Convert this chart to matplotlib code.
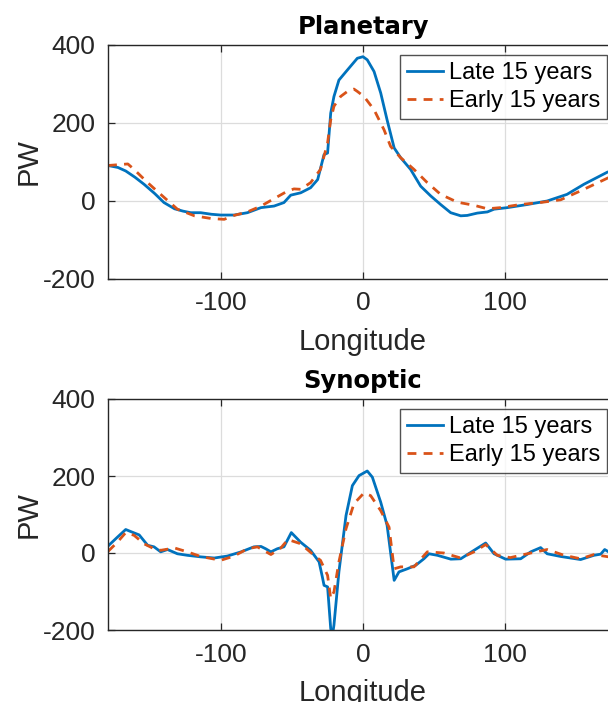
import matplotlib
matplotlib.use("Agg")
import matplotlib.pyplot as plt
import numpy as np

plt.rcParams["axes.unicode_minus"] = False

# ---------------- data ----------------
plan_late_lon = [-180, -173, -167.5, -161, -154.6, -147, -140.5, -133, -127, -121.6, -114.6, -107, -100.5,
                 -91, -81.6, -72, -62.8, -55.8, -51, -44, -37, -32, -27.5, -25, -22.8, -20.5, -17,
                 -11, -4, 0, 3, 7.8, 12.5, 17, 22, 26.6, 33.6, 40.7, 47.8, 54.8, 61.9, 69, 73.6, 80.7,
                 87.8, 92.5, 101.9, 116, 130, 144, 156, 172.5, 180]
plan_late = [91, 86, 77, 61, 43, 19, -4, -20, -26, -30, -30, -34, -36,
             -36, -30, -17, -13, -4, 15, 21, 34, 55, 119, 123, 225, 268, 310,
             336, 366, 370, 362, 332, 277, 208, 136, 111, 81, 38, 13, -9, -30, -38, -37, -31,
             -28, -21, -17, -9, 0, 17, 43, 74, 82]

plan_early_lon = [-180, -166, -161.6, -152, -142.8, -131, -119, -107, -98, -91, -81.6, -72, -62.8,
                  -53, -48.7, -44, -37, -30, -25, -22.8, -20.5, -15.8, -11, -6.4, -4, 0.7, 7.8,
                  14.8, 19.5, 26.6, 36, 45.4, 54.8, 66.6, 78.4, 87.8, 97, 111, 125, 139.5, 153.6,
                  173.4, 180]
plan_early = [91, 95, 81, 47, 17, -21, -38, -45, -47, -37, -28, -13, 6,
              26, 31, 30, 47, 81, 149, 208, 243, 268, 281, 287, 281, 268, 234,
              183, 140, 111, 81, 47, 17, -3, -11, -20, -17, -9, -4, 3, 26,
              60, 66]

syn_late_lon = [-180, -173.4, -167.5, -162.8, -158, -152, -147.5, -142.8, -138, -131, -124, -114.6,
                -105, -95.8, -86, -77, -72, -68.7, -65, -60.5, -55.8, -50.6, -44, -37, -31, -28.7,
                -27.5, -25, -22.8, -21.6, -20.5, -17, -12, -7.5, -2.8, 3, 6.6, 12.5, 17, 22, 25.4,
                31.3, 37.2, 43, 46.6, 52.5, 62, 69, 78.4, 86.6, 92.5, 100.7, 111.3, 118.4, 125.4,
                130, 139.5, 153.6, 163, 167.8, 170.6, 173.4, 180]
syn_late = [18, 41, 61, 54, 47, 20, 16, 3, 9, -2, -6, -10,
            -13, -8, 3, 16, 17, 11, 3, 11, 16, 53, 28, 7, -23, -62,
            -84, -88, -196, -215, -187, -49, 97, 175, 201, 213, 197, 132, 72, -71, -49,
            -41, -32, -15, -2, -6, -16, -15, 7, 26, -2, -16, -15, 3, 14,
            -2, -9, -17, -6, -3, 9, 3, 0]

syn_early_lon = [-180, -173.4, -167.5, -161.6, -154.6, -147.5, -142.8, -133, -124, -114.6, -100.5,
                 -91, -81.6, -74.6, -65, -58, -53, -44, -34.6, -30, -25, -22.8, -20.5, -17, -12,
                 -6.4, 0.7, 5.4, 12.5, 18.4, 22, 26.6, 36, 45.4, 57, 69, 78.4, 86.6, 94.8, 104,
                 116, 130, 142, 153.6, 163, 173.4, 180]
syn_early = [4, 28, 53, 46, 24, 11, 7, 13, 3, -9, -19,
             -8, 11, 16, -4, 13, 35, 24, -6, -19, -58, -118, -101, -23, 63,
             128, 156, 149, 110, 67, -41, -36, -36, 3, 0, -13, 3, 22, -6, -12,
             -2, 9, -6, -15, -4, -10, -8]

xticks = [-100, 0, 100]
yticks = [-200, 0, 200, 400]
titles = ["Planetary", "Synoptic"]
labels = ["Late 15 years", "Early 15 years"]

# ---------------- plotting ----------------
W, H = 608, 702
fig = plt.figure(figsize=(W / 100, H / 100), dpi=100)

blue = "#0072BD"
orange = "#D95319"
fam = ["Liberation Sans", "DejaVu Sans"]
ink = "#262626"

panels = [
    (titles[0], plan_late_lon, plan_late, plan_early_lon, plan_early, 45, 279),
    (titles[1], syn_late_lon, syn_late, syn_early_lon, syn_early, 399, 630),
]
left_px, right_px = 108, 618

for title, llon, lval, elon, evals, top_px, bot_px in panels:
    ax = fig.add_axes([left_px / W, 1 - bot_px / H, (right_px - left_px) / W, (bot_px - top_px) / H])
    ax.plot(llon, lval, color=blue, lw=2.0, label=labels[0])
    ax.plot(elon, evals, color=orange, lw=2.0, ls=(0, (3.2, 2.6)), label=labels[1])
    ax.set_xlim(-180, 180)
    ax.set_ylim(-200, 400)
    ax.set_xticks(xticks)
    ax.set_yticks(yticks)
    ax.grid(True, color="#dcdcdc", lw=0.9)
    ax.set_axisbelow(True)
    for s in ax.spines.values():
        s.set_color(ink)
        s.set_linewidth(1.0)
    ax.tick_params(direction="in", length=5, width=0.9, color=ink, top=True, right=True,
                   labelsize=19, labelcolor=ink, pad=9)
    for lab in ax.get_xticklabels() + ax.get_yticklabels():
        lab.set_family(fam)
    ax.set_xlabel("Longitude", fontsize=21, family=fam, color=ink, labelpad=9)
    ax.set_ylabel("PW", fontsize=21, family=fam, color=ink, labelpad=0)
    ax.set_title(title, fontsize=17.5, fontweight="bold", family="DejaVu Sans", pad=8)
    leg = ax.legend(loc="upper right", bbox_to_anchor=(607 / W, 1 - (top_px + 10) / H),
                    bbox_transform=fig.transFigure, frameon=True, fancybox=False,
                    prop={"family": fam, "size": 17}, handlelength=1.55, handletextpad=0.22,
                    borderpad=0.3, labelspacing=0.25, borderaxespad=0)
    leg.get_frame().set_edgecolor(ink)
    leg.get_frame().set_linewidth(1.0)

fig.savefig("out.png", dpi=100)
